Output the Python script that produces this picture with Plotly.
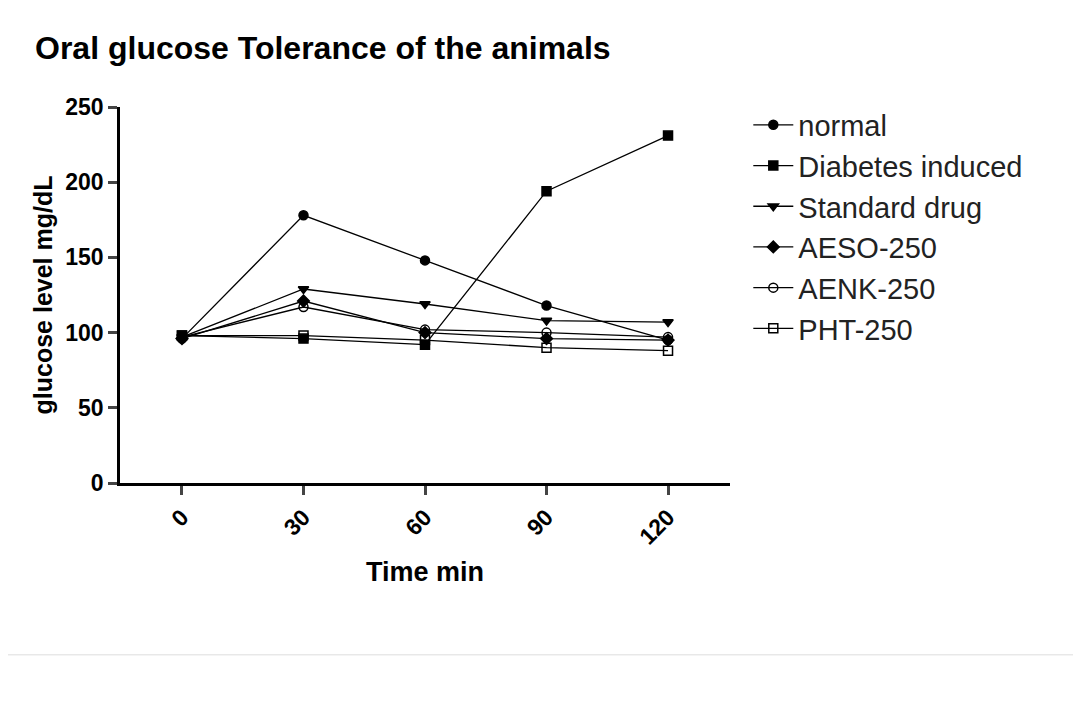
import plotly.graph_objects as go

TIME = [0, 30, 60, 90, 120]
TICK_LABELS = ["0", "30", "60", "90", "120"]

NORMAL = [96, 178, 148, 118, 95]
DIABETES = [98, 96, 92, 194, 231]
STANDARD = [97, 129, 119, 108, 107]
AESO = [96, 121, 100, 96, 95]
AENK = [97, 117, 102, 100, 97]
PHT = [98, 98, 95, 90, 88]

SERIES = [
    ("normal", NORMAL, "circle"),
    ("Diabetes induced", DIABETES, "square"),
    ("Standard drug", STANDARD, "triangle-down"),
    ("AESO-250", AESO, "diamond"),
    ("AENK-250", AENK, "circle-open"),
    ("PHT-250", PHT, "square-open"),
]

FONT = "Arial, Liberation Sans, sans-serif"

fig = go.Figure()
for name, vals, sym in SERIES:
    fig.add_trace(go.Scatter(
        x=TIME, y=vals, name=name, mode="lines+markers",
        line=dict(color="black", width=1.3),
        marker=dict(symbol=sym, size=9, color="black",
                    line=dict(color="black", width=1.5)),
    ))

fig.update_layout(
    width=1081, height=716,
    paper_bgcolor="white", plot_bgcolor="white",
    margin=dict(l=112, r=359, t=99, b=241),
    title=dict(text="<b>Oral glucose Tolerance of the animals</b>", x=0.025, y=0.945,
               xanchor="left", yanchor="middle",
               font=dict(family=FONT, size=32, color="black")),
    legend=dict(x=1.03, y=1.02, xanchor="left", yanchor="top",
                font=dict(family=FONT, size=29, color="#222"),
                itemwidth=40, tracegroupgap=0, bgcolor="rgba(0,0,0,0)"),
    showlegend=True,
)
fig.update_xaxes(
    range=[-15.3, 135.3], tickvals=TIME, ticktext=["<b>%s</b>" % t for t in TICK_LABELS],
    tickangle=-45,
    showline=True, linecolor="black", linewidth=2.5, ticks="outside", ticklen=9,
    tickwidth=2.5, showgrid=False, zeroline=False,
    tickfont=dict(family=FONT, size=23, color="black"),
    title=dict(text="<b>Time min</b>", standoff=14, font=dict(family=FONT, size=27, color="black")),
)
fig.update_yaxes(
    range=[0, 250], tickvals=[0, 50, 100, 150, 200, 250],
    ticktext=["<b>%d</b>" % v for v in [0, 50, 100, 150, 200, 250]],
    showline=True, linecolor="black", linewidth=2.5, ticks="outside", ticklen=9,
    tickwidth=2.5, showgrid=False, zeroline=False,
    tickfont=dict(family=FONT, size=23, color="black"),
    title=dict(text="<b>glucose level mg/dL</b>", standoff=6,
               font=dict(family=FONT, size=25, color="black")),
)
fig.add_shape(type="line", xref="paper", yref="paper", x0=-0.2, x1=1.6,
              y0=-0.457, y1=-0.457, line=dict(color="#dddddd", width=1))

fig.write_html("out.html")
